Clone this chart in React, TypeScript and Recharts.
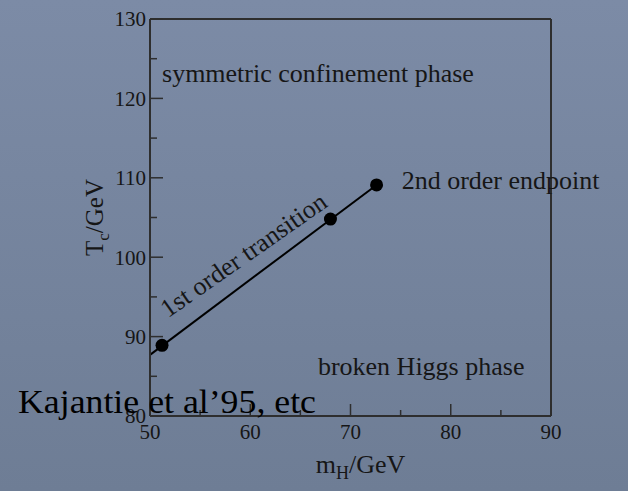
import React from 'react';
import { ComposedChart, Line, Scatter, XAxis, YAxis, Label } from 'recharts';

// Data
const transitionLine = [
  { x: 50, y: 87.7 },
  { x: 72.6, y: 109.1 },
];
const latticePoints = [
  { x: 51.2, y: 88.9 },
  { x: 68.0, y: 104.8 },
  { x: 72.6, y: 109.1 },
];
const annotations = [
  { x: 51.2, y: 122.1, text: 'symmetric confinement phase', angle: 0 },
  { x: 75.1, y: 108.6, text: '2nd order endpoint', angle: 0 },
  { x: 66.75, y: 85.2, text: 'broken Higgs phase', angle: 0 },
  { x: 51.8, y: 92.3, text: '1st order transition', angle: -35 },
];
const xTicks = [50, 55, 60, 65, 70, 75, 80, 85, 90];
const yTicks = [80, 85, 90, 95, 100, 105, 110, 115, 120, 125, 130];
const xDomain = [50, 90];
const yDomain = [80, 130];
const caption = 'Kajantie et al\u201995, etc';

const FONT = '"Liberation Serif", "Times New Roman", serif';
const FRAME = '#2e2e2e';
const TEXT = '#161616';

const BottomTick = (props: any) => {
  const { x, y, payload } = props;
  const major = payload.value % 10 === 0;
  return (
    <g>
      <line x1={x} x2={x} y1={y} y2={y - (major ? 12 : 6)} stroke={FRAME} strokeWidth={1.5} />
      {major && (
        <text x={x} y={y + 23} textAnchor="middle" fontFamily={FONT} fontSize={21} fill={TEXT}>
          {payload.value}
        </text>
      )}
    </g>
  );
};
const TopTick = (props: any) => {
  const { x, y, payload } = props;
  const major = payload.value % 10 === 0;
  return <line x1={x} x2={x} y1={y} y2={y + (major ? 12 : 6)} stroke={FRAME} strokeWidth={1.5} />;
};
const LeftTick = (props: any) => {
  const { x, y, payload } = props;
  const major = payload.value % 10 === 0;
  return (
    <g>
      <line x1={x} x2={x + (major ? 13 : 7)} y1={y} y2={y} stroke={FRAME} strokeWidth={1.5} />
      {major && (
        <text x={x - 4} y={y} dy="0.35em" textAnchor="end" fontFamily={FONT} fontSize={21} fill={TEXT}>
          {payload.value}
        </text>
      )}
    </g>
  );
};
const RightTick = (props: any) => {
  const { x, y, payload } = props;
  const major = payload.value % 10 === 0;
  return <line x1={x} x2={x - (major ? 13 : 7)} y1={y} y2={y} stroke={FRAME} strokeWidth={1.5} />;
};

const AnnotationShape = (props: any) => {
  const { cx, cy, payload } = props;
  return (
    <text
      x={cx}
      y={cy}
      fontFamily={FONT}
      fontSize={26}
      fill={TEXT}
      transform={payload.angle ? `rotate(${payload.angle} ${cx} ${cy})` : undefined}
    >
      {payload.text}
    </text>
  );
};

const DotShape = (props: any) => {
  const { cx, cy } = props;
  return <circle cx={cx} cy={cy} r={6.5} fill="#000" />;
};

const YLabel = (props: any) => {
  const vb = props.viewBox;
  const x = vb.x + 13;
  const y = vb.y + vb.height / 2;
  return (
    <text x={x} y={y} transform={`rotate(-90 ${x} ${y})`} textAnchor="middle" fontFamily={FONT} fontSize={25} fill={TEXT}>
      T<tspan fontSize={17} dy={6}>c</tspan>
      <tspan dy={-6}>/GeV</tspan>
    </text>
  );
};
const XLabel = (props: any) => {
  const vb = props.viewBox;
  const x = vb.x + vb.width / 2 + 10;
  const y = vb.y + 57;
  return (
    <text x={x} y={y} textAnchor="middle" fontFamily={FONT} fontSize={26} fill={TEXT}>
      m<tspan fontSize={18} dy={6}>H</tspan>
      <tspan dy={-6}>/GeV</tspan>
    </text>
  );
};

export default function App() {
  return (
    <div
      style={{
        position: 'absolute',
        left: 0,
        top: 0,
        width: 628,
        height: 491,
        background: 'linear-gradient(180deg, #7c8ba6 0%, #6e7d95 100%)',
        overflow: 'hidden',
      }}
    >
      <ComposedChart width={628} height={491} margin={{ top: 9, right: 67, left: 90, bottom: 35 }}>
        <XAxis
          xAxisId="b"
          dataKey="x"
          type="number"
          domain={xDomain}
          ticks={xTicks}
          interval={0}
          tickSize={0}
          tickMargin={0}
          tickLine={false}
          tick={BottomTick}
          axisLine={{ stroke: FRAME, strokeWidth: 2 }}
          height={40}
        >
          <Label content={XLabel} />
        </XAxis>
        <XAxis
          xAxisId="t"
          orientation="top"
          dataKey="x"
          type="number"
          domain={xDomain}
          ticks={xTicks}
          interval={0}
          tickSize={0}
          tickMargin={0}
          tickLine={false}
          tick={TopTick}
          axisLine={{ stroke: FRAME, strokeWidth: 2 }}
          height={10}
        />
        <YAxis
          yAxisId="l"
          dataKey="y"
          type="number"
          domain={yDomain}
          ticks={yTicks}
          interval={0}
          tickSize={0}
          tickMargin={0}
          tickLine={false}
          tick={LeftTick}
          axisLine={{ stroke: FRAME, strokeWidth: 2 }}
          width={60}
        >
          <Label content={YLabel} />
        </YAxis>
        <YAxis
          yAxisId="r"
          orientation="right"
          dataKey="y"
          type="number"
          domain={yDomain}
          ticks={yTicks}
          interval={0}
          tickSize={0}
          tickMargin={0}
          tickLine={false}
          tick={RightTick}
          axisLine={{ stroke: FRAME, strokeWidth: 2 }}
          width={10}
        />
        <Line
          xAxisId="b"
          yAxisId="l"
          data={transitionLine}
          dataKey="y"
          stroke="#000"
          strokeWidth={2}
          dot={false}
          activeDot={false}
          isAnimationActive={false}
        />
        <Scatter
          xAxisId="b"
          yAxisId="l"
          data={latticePoints}
          dataKey="y"
          shape={DotShape}
          isAnimationActive={false}
        />
        <Scatter
          xAxisId="b"
          yAxisId="l"
          data={annotations}
          dataKey="y"
          shape={AnnotationShape}
          isAnimationActive={false}
        />
      </ComposedChart>
      <svg width={628} height={491} style={{ position: 'absolute', left: 0, top: 0, pointerEvents: 'none' }}>
        <text x={18} y={413} fontFamily={FONT} fontSize={33} fill="#000" textLength={298} lengthAdjust="spacingAndGlyphs">
          {caption}
        </text>
      </svg>
    </div>
  );
}
